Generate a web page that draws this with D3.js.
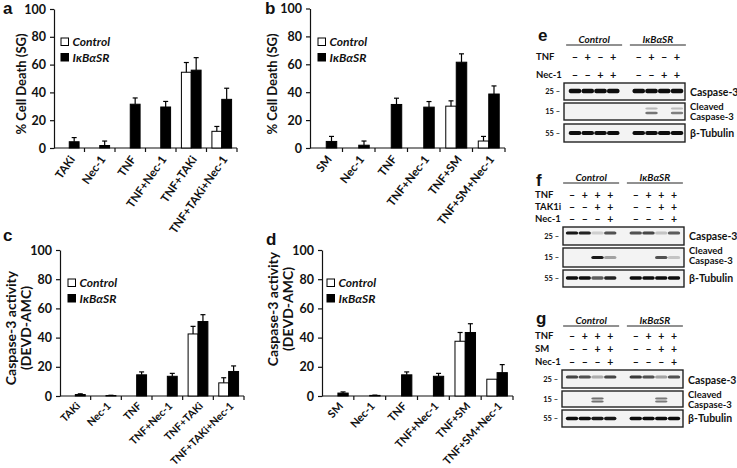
<!DOCTYPE html>
<html><head><meta charset="utf-8">
<script src="https://cdn.jsdelivr.net/npm/d3@7"></script>
<style>
body{margin:0;background:#fff}
svg{display:block}
text{font-family:Lato,"Open Sans",sans-serif;font-weight:700;fill:#111}
</style>
</head><body>
<svg id="fig" width="737" height="468"></svg>
<script>
// ---------- DATA ----------
const seriesNames = ["Control", "IκBαSR"];
const catsTAK = ["TAKi", "Nec-1", "TNF", "TNF+Nec-1", "TNF+TAKi", "TNF+TAKi+Nec-1"];
const catsSM = ["SM", "Nec-1", "TNF", "TNF+Nec-1", "TNF+SM", "TNF+SM+Nec-1"];
const yTicks = [0, 20, 40, 60, 80, 100];

// panel a: % Cell Death (SG), TAKi
const aControl = [0, 0, 0, 0, 54.5, 12];
const aControlErr = [0, 0, 0, 0, 7, 3.5];
const aIkb = [4.5, 1.8, 31.5, 29.5, 56, 35];
const aIkbErr = [3, 3.2, 4.5, 4, 9, 8];

// panel b: % Cell Death (SG), SM
const bControl = [0, 0, 0, 0, 30, 5];
const bControlErr = [0, 0, 0, 0, 3.8, 3.3];
const bIkb = [4.7, 2, 31.2, 29.3, 61.5, 38.7];
const bIkbErr = [3.6, 3, 4.5, 4, 6, 5.8];

// panel c: Caspase-3 activity, TAKi
const cControl = [0, 0, 0, 0, 42.5, 9];
const cControlErr = [0, 0, 0, 0, 5.2, 3.5];
const cIkb = [1, 0.3, 14.5, 13.5, 51, 16.8];
const cIkbErr = [0.5, 0.2, 2, 2, 4.7, 3.8];

// panel d: Caspase-3 activity, SM
const dControl = [0, 0, 0, 0, 37.5, 11.5];
const dControlErr = [0, 0, 0, 0, 6, 0];
const dIkb = [2, 0.4, 14.5, 13.5, 43.5, 16];
const dIkbErr = [0.8, 0.2, 2, 2, 6, 5.5];

// western blots: lane groups and treatment rows
const laneIds = ["C1", "C2", "C3", "C4", "gap", "S1", "S2", "S3", "S4"];
const eTNF = ["-", "+", "-", "+", "-", "+", "-", "+"];
const eNec = ["-", "-", "+", "+", "-", "-", "+", "+"];
const fTNF = ["-", "+", "+", "+", "-", "+", "+", "+"];
const fTAK = ["-", "-", "+", "+", "-", "-", "+", "+"];
const fNec = ["-", "-", "-", "+", "-", "-", "-", "+"];
const gTNF = ["-", "+", "+", "+", "-", "+", "+", "+"];
const gSM = ["-", "-", "+", "+", "-", "-", "+", "+"];
const gNec = ["-", "-", "-", "+", "-", "-", "-", "+"];

// band intensities (0..1)
const eCasp = [1, 1, 1, 1, 1, 1, 1, 1];
const eCleaved = [0, 0, 0, 0, 0, 0.55, 0, 0.5];
const eTub = [1, 1, 1, 1, 1, 1, 1, 1];
const fCasp = [0.95, 0.9, 0.15, 0.7, 0.7, 0.75, 0.2, 0.65];
const fCleaved = [0, 0, 0.95, 0.35, 0, 0, 0.7, 0.2];
const fTub = [1, 1, 0.65, 0.9, 1, 1, 1, 1];
const gCasp = [0.75, 0.7, 0.3, 0.75, 0.8, 0.7, 0.35, 0.7];
const gCleaved = [0, 0, 0.7, 0, 0, 0, 0.65, 0];
const gTub = [1, 1, 0.95, 0.95, 1, 1, 1, 1];

// ---------- DRAW ----------
const svg = d3.select("#fig");
svg.append("rect").attr("width", 737).attr("height", 468).attr("fill", "#fff");

const defs = svg.append("defs");
defs.append("filter").attr("id", "blur").attr("x", "-30%").attr("y", "-100%").attr("width", "160%").attr("height", "300%")
  .append("feGaussianBlur").attr("stdDeviation", 0.7);

function panelLetter(t, x, y) {
  svg.append("text").attr("x", x).attr("y", y).text(t)
    .style("font-family", "'Liberation Sans',Arial,sans-serif").style("font-size", "17px").style("font-weight", 700);
}

function drawChart(cfg) {
  const g = svg.append("g");
  const x = d3.scaleBand().domain(cfg.cats).range([cfg.x0, cfg.x1]).padding(0);
  const xs = d3.scaleBand().domain(seriesNames).range([0, x.bandwidth()]).paddingInner(0).paddingOuter(0.55);
  const y = d3.scaleLinear().domain([0, 100]).range([cfg.y0, cfg.y100]);

  // y axis
  const ya = g.append("g").attr("transform", `translate(${cfg.x0},0)`)
    .call(d3.axisLeft(y).tickValues(yTicks).tickSize(4).tickSizeOuter(0).tickPadding(4));
  ya.selectAll("path,line").attr("stroke", "#111").attr("stroke-width", 1.2);
  ya.selectAll("text").style("font-family", "Lato,sans-serif").style("font-size", "12.5px").style("font-weight", 700).attr("fill", "#111");

  // x axis (boundary ticks)
  g.append("line").attr("x1", cfg.x0).attr("x2", cfg.x1).attr("y1", cfg.y0).attr("y2", cfg.y0)
    .attr("stroke", "#111").attr("stroke-width", 1.2);
  g.selectAll(".xt").data(cfg.cats).join("line")
    .attr("x1", d => x(d) + x.bandwidth()).attr("x2", d => x(d) + x.bandwidth())
    .attr("y1", cfg.y0).attr("y2", cfg.y0 + 4).attr("stroke", "#111").attr("stroke-width", 1.2);
  g.selectAll(".xl").data(cfg.cats).join("text")
    .attr("transform", d => `translate(${x(d) + x.bandwidth() / 2 + 3},${cfg.y0 + cfg.labelOff}) rotate(${cfg.angle})`)
    .attr("text-anchor", "end").attr("dy", "0.35em")
    .style("font-size", cfg.labelSize).text(d => d);

  // bars
  const series = [
    {name: seriesNames[0], vals: cfg.ctrl, errs: cfg.ctrlErr, fill: "#fff"},
    {name: seriesNames[1], vals: cfg.ikb, errs: cfg.ikbErr, fill: "#000"}
  ];
  series.forEach(s => {
    const rows = cfg.cats.map((c, i) => ({c, v: s.vals[i], e: s.errs[i]})).filter(r => r.v > 0);
    g.selectAll(null).data(rows).join("rect")
      .attr("x", r => x(r.c) + xs(s.name)).attr("width", xs.bandwidth())
      .attr("y", r => y(r.v)).attr("height", r => y(0) - y(r.v))
      .attr("fill", s.fill).attr("stroke", "#000").attr("stroke-width", 1);
    const er = rows.filter(r => r.e > 0);
    g.selectAll(null).data(er).join("line")
      .attr("x1", r => x(r.c) + xs(s.name) + xs.bandwidth() / 2)
      .attr("x2", r => x(r.c) + xs(s.name) + xs.bandwidth() / 2)
      .attr("y1", r => y(r.v)).attr("y2", r => y(r.v + r.e))
      .attr("stroke", "#000").attr("stroke-width", 1.2);
    g.selectAll(null).data(er).join("line")
      .attr("x1", r => x(r.c) + xs(s.name) + xs.bandwidth() / 2 - 2.5)
      .attr("x2", r => x(r.c) + xs(s.name) + xs.bandwidth() / 2 + 2.5)
      .attr("y1", r => y(r.v + r.e)).attr("y2", r => y(r.v + r.e))
      .attr("stroke", "#000").attr("stroke-width", 1.2);
  });

  // legend
  const lg = g.append("g").attr("transform", `translate(${cfg.legX},${cfg.legY})`);
  series.forEach((s, i) => {
    lg.append("rect").attr("x", 0).attr("y", i * 15.5).attr("width", 7.5).attr("height", 7.5)
      .attr("fill", s.fill).attr("stroke", "#000").attr("stroke-width", 1);
    lg.append("text").attr("x", 11.5).attr("y", i * 15.5 + 4).attr("dy", "0.35em")
      .style("font-size", "12px").style("font-style", "italic").text(s.name);
  });

  // y title
  const tt = g.append("text").attr("transform", `translate(${cfg.titleX},${cfg.titleY}) rotate(-90)`)
    .attr("text-anchor", "middle").style("font-size", cfg.titleSize);
  cfg.title.forEach((line, i) => {
    tt.append("tspan").attr("x", 0).attr("dy", i === 0 ? (cfg.title.length > 1 ? "-0.25em" : "0.35em") : "1.1em").text(line);
  });
}

drawChart({cats: catsTAK, ctrl: aControl, ctrlErr: aControlErr, ikb: aIkb, ikbErr: aIkbErr,
  x0: 54, x1: 237, y0: 148, y100: 9, legX: 61, legY: 38, title: ["% Cell Death (SG)"], titleX: 21, titleY: 84, titleSize: "13px",
  angle: -55, labelSize: "11.5px", labelOff: 9});
drawChart({cats: catsSM, ctrl: bControl, ctrlErr: bControlErr, ikb: bIkb, ikbErr: bIkbErr,
  x0: 310, x1: 505, y0: 148, y100: 8.5, legX: 318, legY: 38, title: ["% Cell Death (SG)"], titleX: 272, titleY: 84, titleSize: "13px",
  angle: -52, labelSize: "11.5px", labelOff: 9});
drawChart({cats: catsTAK, ctrl: cControl, ctrlErr: cControlErr, ikb: cIkb, ikbErr: cIkbErr,
  x0: 60, x1: 244, y0: 396, y100: 250, legX: 68, legY: 279, title: ["Caspase-3 activity", "(DEVD-AMC)"], titleX: 19, titleY: 328, titleSize: "14px",
  angle: -45, labelSize: "10.5px", labelOff: 8});
drawChart({cats: catsSM, ctrl: dControl, ctrlErr: dControlErr, ikb: dIkb, ikbErr: dIkbErr,
  x0: 322, x1: 513, y0: 396, y100: 250, legX: 327, legY: 279, title: ["Caspase-3 activity", "(DEVD-AMC)"], titleX: 281, titleY: 309, titleSize: "14px",
  angle: -47, labelSize: "11px", labelOff: 8});

panelLetter("a", 3, 14);
panelLetter("b", 265, 14);
panelLetter("c", 3, 241);
panelLetter("d", 266, 245);
panelLetter("e", 538, 41);
panelLetter("f", 536, 186);
panelLetter("g", 536, 324);

// ---------- BLOTS ----------
function drawBlot(cfg) {
  const g = svg.append("g");
  const lx = d3.scalePoint().domain(laneIds).range([cfg.laneStart, cfg.laneEnd]);
  const lanes = laneIds.filter(d => d !== "gap");
  // headers
  const ctrlMid = (lx("C1") + lx("C4")) / 2, srMid = (lx("S1") + lx("S4")) / 2;
  [[ctrlMid, "Control"], [srMid, "IκBαSR"]].forEach(([cx, t]) => {
    g.append("text").attr("x", cx).attr("y", cfg.headY).attr("text-anchor", "middle").attr("dy", "0.35em")
      .style("font-size", "10px").style("font-style", "italic").text(t);
    g.append("line").attr("x1", cx - 28).attr("x2", cx + 28).attr("y1", cfg.headY + 6).attr("y2", cfg.headY + 6)
      .attr("stroke", "#222").attr("stroke-width", 1);
  });
  // treatment rows
  cfg.rows.forEach(r => {
    g.append("text").attr("x", cfg.rowLabelX).attr("y", r.y).attr("dy", "0.35em").style("font-size", "9.5px").text(r.label);
    g.selectAll(null).data(lanes).join("text")
      .attr("x", (d, i) => lx(d)).attr("y", r.y).attr("dy", "0.36em").attr("text-anchor", "middle")
      .style("font-size", cfg.signSize).text((d, i) => r.signs[i] === "-" ? "–" : "+");
  });
  // boxes
  cfg.boxes.forEach(b => {
    g.append("rect").attr("x", cfg.boxX0).attr("y", b.y0).attr("width", cfg.boxX1 - cfg.boxX0).attr("height", b.y1 - b.y0)
      .attr("fill", "#f3f3f3").attr("stroke", "#222").attr("stroke-width", 1.4);
    g.append("text").attr("x", cfg.boxX0 - 4).attr("y", (b.y0 + b.y1) / 2).attr("dy", "0.35em").attr("text-anchor", "end")
      .style("font-size", "7.5px").text(b.marker + " –");
    b.names.forEach((n, i) => {
      g.append("text").attr("x", cfg.boxX1 + 5).attr("y", b.nameY[i]).attr("dy", "0.35em")
        .style("font-size", b.names.length > 1 ? "9.5px" : "10.5px").text(n);
    });
    b.bands.forEach(bd => {
      g.selectAll(null).data(lanes.map((d, i) => ({d, v: bd.vals[i]})).filter(o => o.v > 0)).join("rect")
        .attr("x", o => lx(o.d) - 6.2).attr("width", 12.4)
        .attr("y", bd.y - bd.h / 2).attr("height", bd.h).attr("rx", 1.8)
        .attr("fill", "#0a0a0a").attr("opacity", o => o.v * bd.k)
        .attr("filter", "url(#blur)");
    });
  });
}

drawBlot({laneStart: 575, laneEnd: 677, headY: 39, rowLabelX: 536, boxX0: 564, boxX1: 685, signSize: "11px",
  rows: [{label: "TNF", y: 57, signs: eTNF}, {label: "Nec-1", y: 75, signs: eNec}],
  boxes: [
    {y0: 83, y1: 100, marker: "25", names: ["Caspase-3"], nameY: [92], bands: [{y: 91, h: 4.5, vals: eCasp, k: 1}]},
    {y0: 103, y1: 120, marker: "15", names: ["Cleaved", "Caspase-3"], nameY: [107, 117],
      bands: [{y: 108.5, h: 2, vals: eCleaved, k: 0.45}, {y: 113, h: 2.6, vals: eCleaved, k: 1}]},
    {y0: 124, y1: 142, marker: "55", names: ["β-Tubulin"], nameY: [133], bands: [{y: 133, h: 4, vals: eTub, k: 1}]}
  ]});

drawBlot({laneStart: 572, laneEnd: 674, headY: 177, rowLabelX: 535, boxX0: 563, boxX1: 684, signSize: "10.5px",
  rows: [{label: "TNF", y: 195, signs: fTNF}, {label: "TAK1i", y: 207, signs: fTAK}, {label: "Nec-1", y: 219, signs: fNec}],
  boxes: [
    {y0: 227, y1: 245, marker: "25", names: ["Caspase-3"], nameY: [236], bands: [{y: 233, h: 3.2, vals: fCasp, k: 1}]},
    {y0: 248, y1: 267, marker: "15", names: ["Cleaved", "Caspase-3"], nameY: [251, 261],
      bands: [{y: 257.5, h: 3.2, vals: fCleaved, k: 1}]},
    {y0: 270, y1: 287, marker: "55", names: ["β-Tubulin"], nameY: [278.5], bands: [{y: 278, h: 3.6, vals: fTub, k: 1}]}
  ]});

drawBlot({laneStart: 572, laneEnd: 674, headY: 320, rowLabelX: 535, boxX0: 562, boxX1: 683, signSize: "10.5px",
  rows: [{label: "TNF", y: 336, signs: gTNF}, {label: "SM", y: 349, signs: gSM}, {label: "Nec-1", y: 362, signs: gNec}],
  boxes: [
    {y0: 370, y1: 388, marker: "25", names: ["Caspase-3"], nameY: [380], bands: [{y: 377, h: 3, vals: gCasp, k: 1}]},
    {y0: 391, y1: 407, marker: "15", names: ["Cleaved", "Caspase-3"], nameY: [394.5, 404.5],
      bands: [{y: 398.5, h: 1.8, vals: gCleaved, k: 0.8}, {y: 401.5, h: 1.8, vals: gCleaved, k: 0.8}]},
    {y0: 410, y1: 427, marker: "55", names: ["β-Tubulin"], nameY: [418.5], bands: [{y: 418.5, h: 3.6, vals: gTub, k: 1}]}
  ]});
</script>
</body></html>
